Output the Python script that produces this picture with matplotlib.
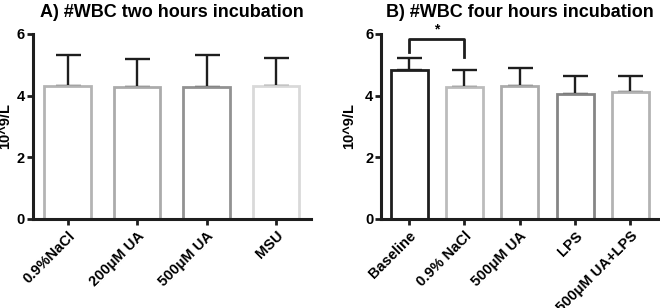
import matplotlib.pyplot as plt

# Panel A: two hours incubation
labels_a = ['0.9%NaCl', '200\u03bcM UA', '500\u03bcM UA', 'MSU']
means_a = [4.31, 4.28, 4.29, 4.32]
err_a = [1.01, 0.91, 1.03, 0.89]
edge_a = ['#b4b4b4', '#ababab', '#929292', '#d9d9d9']

# Panel B: four hours incubation
labels_b = ['Baseline', '0.9% NaCl', '500\u03bcM UA', 'LPS', '500\u03bcM UA+LPS']
means_b = [4.83, 4.27, 4.32, 4.05, 4.11]
err_b = [0.38, 0.55, 0.59, 0.60, 0.54]
edge_b = ['#1e1e1e', '#bcbcbc', '#ababab', '#858585', '#b3b3b3']

plt.rcParams['font.family'] = ['Liberation Sans', 'DejaVu Sans']
plt.rcParams['font.weight'] = 'bold'


def draw_panel(ax, labels, means, errs, edges, title, label_x):
    x = list(range(len(labels)))
    ax.bar(x, means, width=0.67, color='white', edgecolor=edges, linewidth=2, zorder=2)
    ax.errorbar(x, means, yerr=[[0] * len(errs), errs], fmt='none', ecolor='#1e1e1e',
                elinewidth=1.7, capsize=9, capthick=1.7, zorder=1)
    ax.set_xlim(-0.5, len(labels) - 0.5)
    ax.set_ylim(0, 6)
    ax.set_yticks([0, 2, 4, 6])
    ax.set_xticks(x)
    ax.set_xticklabels(labels, rotation=45, ha='right', rotation_mode='anchor',
                       fontsize=10.5, fontweight='bold')
    ax.tick_params(axis='y', labelsize=10.5, width=2, length=4, color='#1e1e1e', pad=2)
    ax.tick_params(axis='x', width=2, length=4, color='#1e1e1e', pad=3)
    for lab in ax.get_yticklabels():
        lab.set_fontweight('bold')
    ax.spines['top'].set_visible(False)
    ax.spines['right'].set_visible(False)
    for side in ['left', 'bottom']:
        ax.spines[side].set_linewidth(2.2)
        ax.spines[side].set_color('#1e1e1e')
    ax.set_ylabel('10^9/L', fontsize=10.5, fontweight='bold')
    ax.yaxis.set_label_coords(label_x, 0.5)
    ax.set_title(title, fontsize=13, fontweight='bold', pad=12)


fig = plt.figure(figsize=(6.6, 3.08), dpi=100)
ax1 = fig.add_axes([0.05, 0.289, 0.421, 0.601])
ax2 = fig.add_axes([0.578, 0.289, 0.419, 0.601])

draw_panel(ax1, labels_a, means_a, err_a, edge_a, 'A) #WBC two hours incubation', -0.075)
draw_panel(ax2, labels_b, means_b, err_b, edge_b, 'B) #WBC four hours incubation', -0.09)

# significance bracket Baseline vs 0.9% NaCl
ax2.plot([0, 0, 1, 1], [5.42, 5.82, 5.82, 5.26], color='#1e1e1e', linewidth=2,
         clip_on=False)
ax2.text(0.5, 5.9, '*', ha='center', va='bottom', fontsize=10, fontweight='bold')

fig.savefig('out.png', dpi=100)
